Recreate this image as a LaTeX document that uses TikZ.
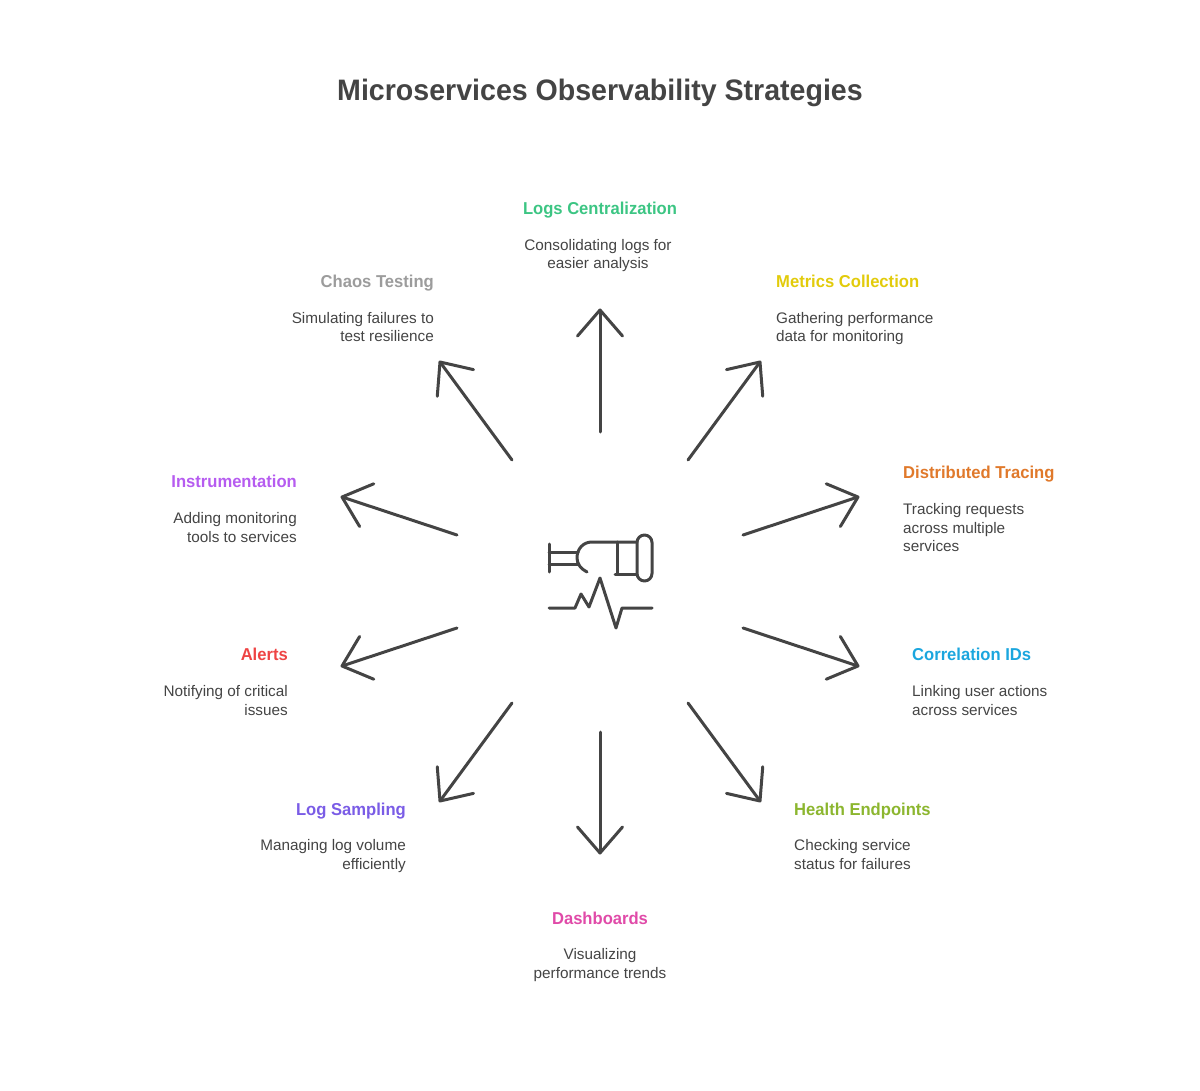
\documentclass[tikz,border=0pt]{standalone}
\usepackage{fontspec}
\setmainfont{Liberation Sans}
\newfontfamily\condfont[FakeStretch=0.965]{Liberation Sans}
\usetikzlibrary{arrows.meta}
\definecolor{ink}{HTML}{444444}
\definecolor{cgreen}{HTML}{3CC583}
\definecolor{cyellow}{HTML}{E2CB0B}
\definecolor{corange}{HTML}{E0792B}
\definecolor{cblue}{HTML}{1BA6DE}
\definecolor{colive}{HTML}{8CB62F}
\definecolor{cpink}{HTML}{E04AA8}
\definecolor{cindigo}{HTML}{7A5CE6}
\definecolor{cred}{HTML}{EE4444}
\definecolor{cviolet}{HTML}{B65CF0}
\definecolor{cgray}{HTML}{9C9C9C}
\newcommand\tl{\rule{0pt}{12pt}}
\tikzset{
  x=1pt,y=-1pt,
  head/.style={inner sep=0pt,font=\condfont\fontsize{17.2}{20}\selectfont\bfseries},
  body/.style={inner sep=0pt,text=ink,font=\fontsize{15.3}{18.3}\selectfont},
  bl/.style={body,anchor=north west,align=left},
  br/.style={body,anchor=north east,align=right},
  bc/.style={body,anchor=north,align=center},
  spoke/.style={draw=ink,line width=3pt,line cap=round,line join=round,shorten >=-1.5pt,-{Straight Barb[length=26pt,width=45pt,line width=3pt,round]}},
  icon/.style={draw=ink,line width=3pt,line cap=round,line join=round}
}
\begin{document}
\begin{tikzpicture}
\useasboundingbox (0,0) rectangle (1200,1091);
\node[inner sep=0pt,anchor=base,text=ink,font=\condfont\fontsize{29.6}{34}\selectfont\bfseries] (title) at (600,101) {Microservices Observability Strategies};

% labels
\node[head,anchor=base,text=cgreen] (h1) at (600,215) {Logs Centralization};
\node[bc] (b1) at (598,238.5) {\tl Consolidating logs for\\easier analysis};
\node[head,anchor=base west,text=cyellow] (h2) at (776,288) {Metrics Collection};
\node[bl] (b2) at (776,311.5) {\tl Gathering performance\\data for monitoring};
\node[head,anchor=base west,text=corange] (h3) at (903,478.5) {Distributed Tracing};
\node[bl] (b3) at (903,502.5) {\tl Tracking requests\\across multiple\\services};
\node[head,anchor=base west,text=cblue] (h4) at (912,660.5) {Correlation IDs};
\node[bl] (b4) at (912,684.5) {\tl Linking user actions\\across services};
\node[head,anchor=base west,text=colive] (h5) at (794,815) {Health Endpoints};
\node[bl] (b5) at (794,838.5) {\tl Checking service\\status for failures};
\node[head,anchor=base,text=cpink] (h6) at (600,924) {Dashboards};
\node[bc] (b6) at (600,947.5) {\tl Visualizing\\performance trends};
\node[head,anchor=base east,text=cindigo] (h7) at (406,815) {Log Sampling};
\node[br] (b7) at (406,838.5) {\tl Managing log volume\\efficiently};
\node[head,anchor=base east,text=cred] (h8) at (288,660.5) {Alerts};
\node[br] (b8) at (288,684.5) {\tl Notifying of critical\\issues};
\node[head,anchor=base east,text=cviolet] (h9) at (297,487.5) {Instrumentation};
\node[br] (b9) at (297,511.5) {\tl Adding monitoring\\tools to services};
\node[head,anchor=base east,text=cgray] (h10) at (434,288) {Chaos Testing};
\node[br] (b10) at (434,311.5) {\tl Simulating failures to\\test resilience};

% spokes
\coordinate (s1) at (600,432);  \coordinate (e1) at (600,310);
\coordinate (s2) at (688,460);  \coordinate (e2) at (760,362);
\coordinate (s3) at (743,535);  \coordinate (e3) at (858,497);
\coordinate (s4) at (743,628);  \coordinate (e4) at (858,666);
\coordinate (s5) at (688,703);  \coordinate (e5) at (760,801);
\coordinate (s6) at (600,732);  \coordinate (e6) at (600,853);
\coordinate (s7) at (512,703);  \coordinate (e7) at (440,801);
\coordinate (s8) at (457,628);  \coordinate (e8) at (342,666);
\coordinate (s9) at (457,535);  \coordinate (e9) at (342,497);
\coordinate (s10) at (512,460); \coordinate (e10) at (440,362);
\foreach \i in {1,...,10} \draw[spoke] (s\i) -- (e\i);

% central icon
\draw[icon] (549,544) -- (549,572);
\draw[icon] (549,552) -- (578,552);
\draw[icon] (549,564) -- (578,564);
\draw[icon] (587,572) .. controls (581,569) and (577,564) .. (577,558)
            .. controls (577,549) and (583,542) .. (592,542) -- (637,542);
\draw[icon] (617,542) -- (617,574);
\draw[icon] (615,574) -- (637,574);
\draw[icon,rounded corners=7.5pt] (637,535) rectangle (652,581);
\draw[icon] (549,608) -- (575,608) -- (581,594) -- (589,607) -- (600,578)
            -- (616,628) -- (622,608) -- (652,608);
\end{tikzpicture}
\end{document}
